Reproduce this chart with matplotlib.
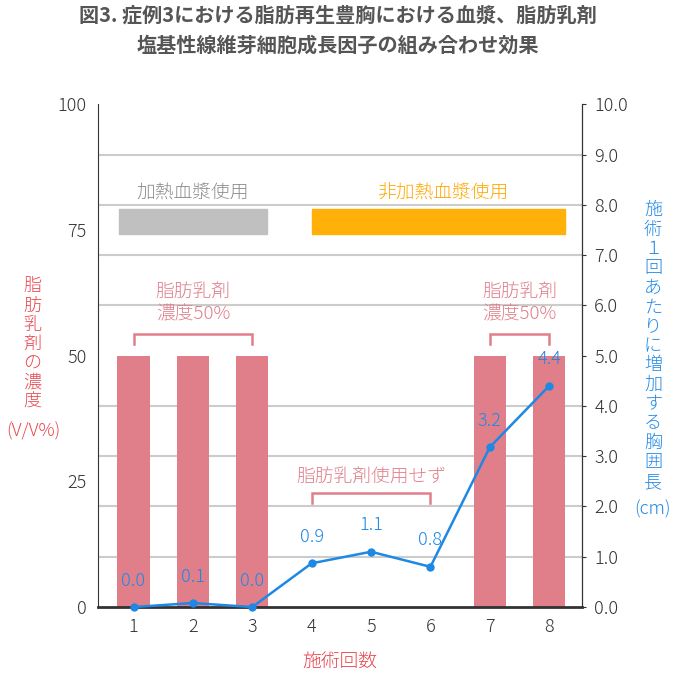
import matplotlib
matplotlib.use('Agg')
import matplotlib.pyplot as plt
from matplotlib.ticker import MultipleLocator
from matplotlib.patches import Rectangle

plt.rcParams['font.family'] = ['Noto Sans CJK JP', 'DejaVu Sans']
plt.rcParams['font.weight'] = 'light'

# data
sessions = [1, 2, 3, 4, 5, 6, 7, 8]
fat_conc = [50, 50, 50, 0, 0, 0, 50, 50]          # 脂肪乳剤の濃度 (V/V%)
bust_gain = [0.0, 0.08, 0.0, 0.87, 1.1, 0.8, 3.18, 4.4]  # 施術1回あたりに増加する胸囲長 (cm)
gain_labels = ['0.0', '0.1', '0.0', '0.9', '1.1', '0.8', '3.2', '4.4']
left_ticks = [0, 25, 50, 75, 100]
right_ticks = [0, 1, 2, 3, 4, 5, 6, 7, 8, 9, 10]

bar_col = '#e07f8a'
line_col = '#1e88e5'
red_col = '#e8474f'
tick_col = '#333333'

fig = plt.figure(figsize=[6.75, 6.73], dpi=100)
ax = fig.add_axes([0.145, 0.098, 0.717, 0.747])
ax2 = ax.twinx()

ax.bar(sessions, fat_conc, width=0.54, color=bar_col, zorder=2)
ax.set_xlim(0.4, 8.55)
ax.set_ylim(0, 100)
ax.set_yticks(left_ticks)
ax.yaxis.set_minor_locator(MultipleLocator(10))
ax.grid(which='minor', axis='y', color='#cccccc', linewidth=1.5, zorder=0)
ax.set_axisbelow(True)
ax.tick_params(axis='y', which='both', length=0, labelsize=13, colors=tick_col, pad=8)
ax.tick_params(axis='x', length=0, labelsize=13, colors=tick_col, pad=8)
ax.set_xticks(sessions)

for s in ['top']:
    ax.spines[s].set_visible(False)
    ax2.spines[s].set_visible(False)
ax.spines['bottom'].set_linewidth(2)
ax.spines['bottom'].set_color('#333333')
ax.spines['left'].set_color('#333333')
ax2.spines['right'].set_color('#333333')
ax2.spines['left'].set_visible(False)
ax2.spines['bottom'].set_visible(False)

# plasma bars
ax.add_patch(Rectangle((0.75, 74.2), 2.5, 4.9, color='#c0c0c0', zorder=2))
ax.add_patch(Rectangle((4.0, 74.2), 4.27, 4.9, color='#ffb10a', zorder=2))
ax.text(2, 82.3, '加熱血漿使用', ha='center', va='center', fontsize=13.5, color='#8c8c8c')
ax.text(6.2, 82.3, '非加熱血漿使用', ha='center', va='center', fontsize=13.5, color='#ffa800')

# brackets
def bracket(x0, x1, y0, y1):
    ax.plot([x0, x0, x1, x1], [y0, y1, y1, y0], color=bar_col, linewidth=1.8, zorder=3, solid_joinstyle='miter')

bracket(1, 3, 52.3, 54.3)
bracket(7, 8, 52.3, 54.3)
bracket(4, 6, 20.7, 22.7)
ax.text(2, 60.4, '脂肪乳剤\n濃度50%', ha='center', va='center', fontsize=13.5, color=bar_col, linespacing=1.3)
ax.text(7.5, 60.4, '脂肪乳剤\n濃度50%', ha='center', va='center', fontsize=13.5, color=bar_col, linespacing=1.3)
ax.text(5, 26.0, '脂肪乳剤使用せず', ha='center', va='center', fontsize=13.5, color=bar_col)

# line
ax2.plot(sessions, bust_gain, color=line_col, linewidth=1.8, marker='o', markersize=5, zorder=5, clip_on=False)
for x, y, lab in zip(sessions, bust_gain, gain_labels):
    ax2.annotate(lab, (x, y), xytext=(0, 19), textcoords='offset points', ha='center', va='center',
                 fontsize=13, color=line_col)
ax2.set_ylim(0, 10)
ax2.set_yticks(right_ticks)
ax2.set_yticklabels(['%.1f' % t for t in right_ticks])
ax2.tick_params(axis='y', length=3, labelsize=13, colors=tick_col, pad=6)
ax2.tick_params(axis='y', color='#333333')

# axis labels
fig.text(32 / 675, 1 - 344 / 673, '\n'.join('脂肪乳剤の濃度'), ha='center', va='center',
         fontsize=13, color=red_col, linespacing=1.08)
fig.text(33 / 675, 1 - 431 / 673, '(V/V%)', ha='center', va='center', fontsize=13, color=red_col)
fig.text(653 / 675, 1 - 346 / 673, '\n'.join('施術１回あたりに増加する胸囲長'), ha='center', va='center',
         fontsize=13, color=line_col, linespacing=1.1)
fig.text(652 / 675, 1 - 509 / 673, '(cm)', ha='center', va='center', fontsize=13, color=line_col)
fig.text(340 / 675, 1 - 662 / 673, '施術回数', ha='center', va='center', fontsize=13.5, color=red_col)

fig.text(338 / 675, 1 - 15 / 673, '図3. 症例3における脂肪再生豊胸における血漿、脂肪乳剤', ha='center', va='center',
         fontsize=14.5, color='#555555', fontweight='bold')
fig.text(338 / 675, 1 - 45 / 673, '塩基性線維芽細胞成長因子の組み合わせ効果', ha='center', va='center',
         fontsize=14.5, color='#555555', fontweight='bold')

fig.savefig('out.png', dpi=100)
